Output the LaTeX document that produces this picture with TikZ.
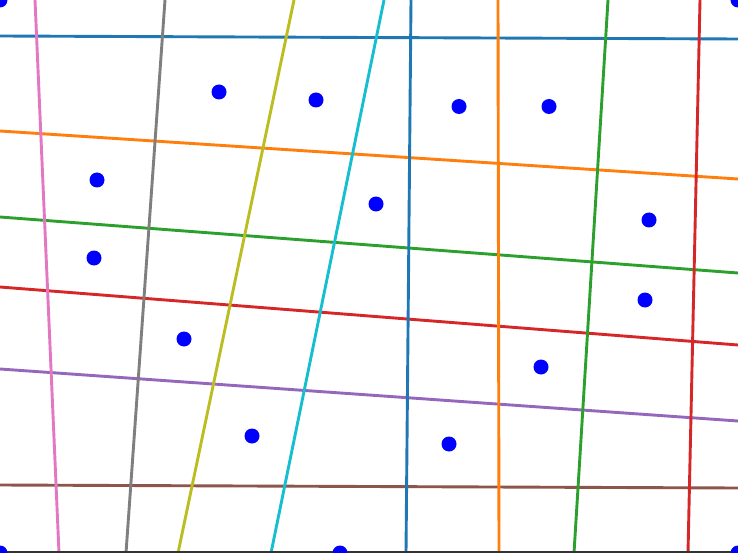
\documentclass[tikz,border=0pt]{standalone}
\definecolor{tabblue}{HTML}{1F77B4}
\definecolor{taborange}{HTML}{FF7F0E}
\definecolor{tabgreen}{HTML}{2CA02C}
\definecolor{tabred}{HTML}{D62728}
\definecolor{tabpurple}{HTML}{9467BD}
\definecolor{tabbrown}{HTML}{8C564B}
\definecolor{tabpink}{HTML}{E377C2}
\definecolor{tabgray}{HTML}{7F7F7F}
\definecolor{tabolive}{HTML}{BCBD22}
\definecolor{tabcyan}{HTML}{17BECF}
\begin{document}
\begin{tikzpicture}[x=1pt,y=-1pt,
  gline/.style={line width=2.9pt},
  dot/.style={circle,fill=blue,inner sep=0pt,minimum size=15pt}]
\useasboundingbox (0,0) rectangle (738,553);
\clip (0,0) rectangle (738,553);
\fill[white] (0,0) rectangle (738,553);
% horizontal lines
\draw[gline,tabblue]   (0,36)  -- (738,39);
\draw[gline,taborange] (0,131) -- (738,179);
\draw[gline,tabgreen]  (0,217) -- (738,273);
\draw[gline,tabred]    (0,287) -- (738,345);
\draw[gline,tabpurple] (0,369) -- (738,421);
\draw[gline,tabbrown]  (0,485) -- (738,488);
% vertical lines
\draw[gline,tabpink]   (35,0)  -- (59,553);
\draw[gline,tabgray]   (165,0) -- (126,553);
\draw[gline,tabolive]  (294,0) -- (178,553);
\draw[gline,tabcyan]   (384,0) -- (271,553);
\draw[gline,tabblue]   (411,0) -- (406,553);
\draw[gline,taborange] (498,0) -- (499,553);
\draw[gline,tabgreen]  (608,0) -- (574,553);
\draw[gline,tabred]    (700,0) -- (688,553);
% bottom spine
\draw[line width=1.8pt,black!80] (0,552.2) -- (738,552.2);
% points
\node[dot] (p1) at (219,92) {};
\node[dot] (p2) at (316,100) {};
\node[dot] (p3) at (459,106.5) {};
\node[dot] (p4) at (549,106.5) {};
\node[dot] (p5) at (97,180) {};
\node[dot] (p6) at (376,204) {};
\node[dot] (p7) at (649,220) {};
\node[dot] (p8) at (94,258) {};
\node[dot] (p9) at (645,300) {};
\node[dot] (p10) at (184,339) {};
\node[dot] (p11) at (541,367) {};
\node[dot] (p12) at (252,436) {};
\node[dot] (p13) at (449,444) {};
\node[dot] (p14) at (340,553) {};
\node[dot] (c1) at (0,0) {};
\node[dot] (c2) at (738,0) {};
\node[dot] (c3) at (0,553) {};
\node[dot] (c4) at (738,553) {};
\end{tikzpicture}
\end{document}
